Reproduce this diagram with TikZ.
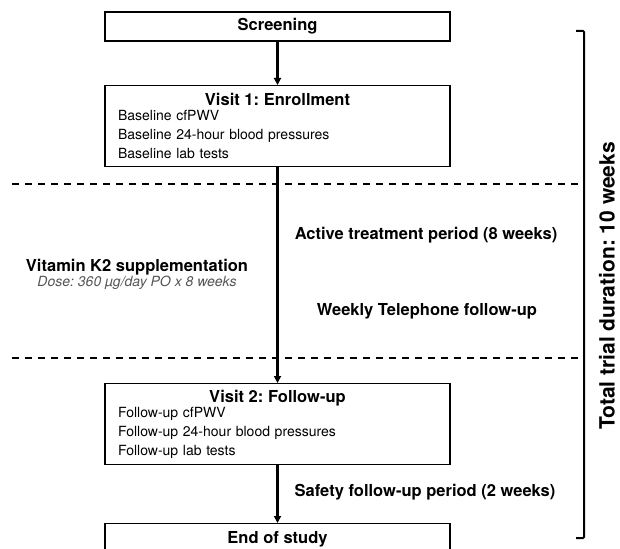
\documentclass[tikz,border=0pt]{standalone}
\usepackage{fontspec}
\setmainfont{TeX Gyre Heros}
\usetikzlibrary{arrows.meta}
\definecolor{dosegray}{RGB}{85,85,85}
\frenchspacing

\begin{document}
\begin{tikzpicture}[x=1pt,y=-1pt,
	box/.style={draw, line width=1.3pt, minimum width=345pt, inner sep=0pt},
	visitbox/.style={draw, line width=1.3pt, anchor=north, text width=319pt,
		inner xsep=13pt, inner ysep=6pt, align=left, minimum height=81pt,
		font=\fontsize{14}{19}\selectfont},
	headtext/.style={font=\bfseries\fontsize{16.5}{19}\selectfont},
	arr/.style={-{Triangle[width=7pt,length=7pt]}, line width=2.1pt},
	sep/.style={line width=2pt, dash pattern=on 7pt off 6pt}]
	\useasboundingbox (0,0) rectangle (620,548);
	% boxes
	\node[box, headtext, minimum height=29pt] (screen) at (277.5,26.5) {Screening};
	\node[visitbox] (visit1) at (277.5,85) {\makebox[\linewidth]{\bfseries\fontsize{16.5}{19}\selectfont Visit 1: Enrollment}\\[-4.5pt]
		Baseline cfPWV\\
		Baseline 24-hour blood pressures\\
		Baseline lab tests};
	\node[visitbox] (visit2) at (277.5,383) {\makebox[\linewidth]{\bfseries\fontsize{16.5}{19}\selectfont Visit 2: Follow-up}\\[-4.5pt]
		Follow-up cfPWV\\
		Follow-up 24-hour blood pressures\\
		Follow-up lab tests};
	\node[visitbox, minimum height=0pt, inner ysep=8pt] (endstudy) at (277.5,523) {\makebox[\linewidth]{\bfseries\fontsize{16.5}{19}\selectfont End of study}};
	\draw[arr] (screen) -- (visit1);
	\draw[arr] (visit1) -- (visit2);
	\draw[arr] (visit2) -- (endstudy);
	% periods
	\draw[sep] (12,184) -- (580,184);
	\draw[sep] (12,358) -- (580,358);
	\node[headtext] (active) at (426,235) {Active treatment period (8 weeks)};
	\node[headtext] (phone) at (427,311) {Weekly Telephone follow-up};
	\node[headtext] (safety) at (425,492) {Safety follow-up period (2 weeks)};
	\node[headtext] (vitk) at (137,267) {Vitamin K2 supplementation};
	\node[font=\itshape\fontsize{14}{16}\selectfont, text=dosegray] (dose) at (137,283) {Dose: 360 µg/day PO x 8 weeks};
	% total duration
	\draw[line width=2pt, rounded corners=1pt] (576,31) -- (584,31) -- (584,538) -- (576,538);
	\node[rotate=90, inner sep=0pt, font=\bfseries\fontsize{21}{24}\selectfont] (total) at (607,286) {Total trial duration: 10 weeks};
\end{tikzpicture}
\end{document}
